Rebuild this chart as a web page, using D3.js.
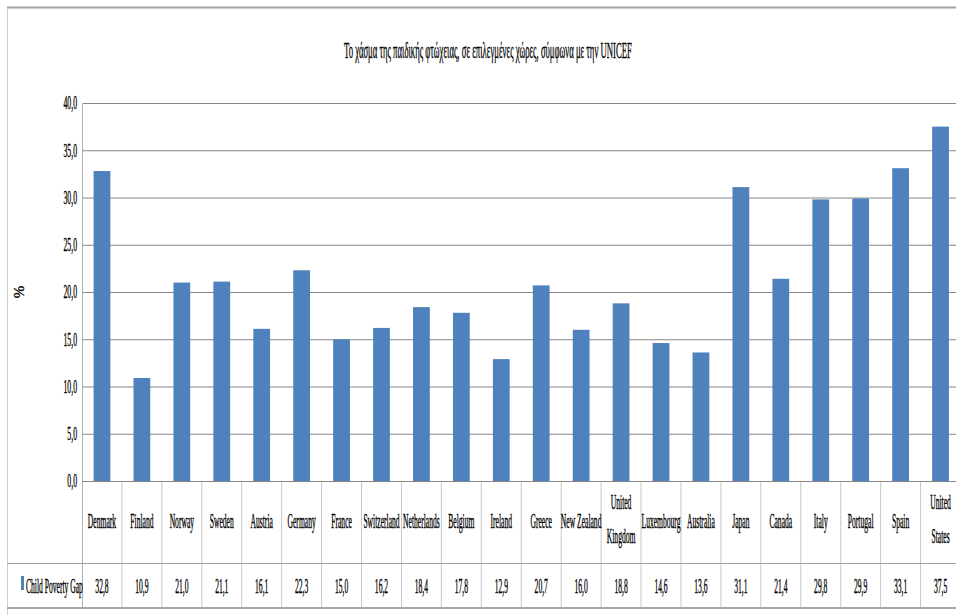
<!DOCTYPE html>
<html><head><meta charset="utf-8">
<script src="https://cdn.jsdelivr.net/npm/d3@7"></script>
<style>html,body{margin:0;padding:0;background:#fff;}svg{display:block;}</style>
</head><body>
<svg id="chart" width="956" height="615"></svg>
<script>
const title = "Το χάσμα της παιδικής φτώχειας, σε επιλεγμένες χώρες, σύμφωνα με την UNICEF";
const yLabel = "%";
const seriesName = "Child Poverty Gap";
const categories = ["Denmark","Finland","Norway","Sweden","Austria","Germany","France","Switzerland","Netherlands","Belgium","Ireland","Greece","New Zealand","United Kingdom","Luxembourg","Australia","Japan","Canada","Italy","Portugal","Spain","United States"];
const categoryLines = [["Denmark"],["Finland"],["Norway"],["Sweden"],["Austria"],["Germany"],["France"],["Switzerland"],["Netherlands"],["Belgium"],["Ireland"],["Greece"],["New Zealand"],["United","Kingdom"],["Luxembourg"],["Australia"],["Japan"],["Canada"],["Italy"],["Portugal"],["Spain"],["United","States"]];
const values = [32.8,10.9,21.0,21.1,16.1,22.3,15.0,16.2,18.4,17.8,12.9,20.7,16.0,18.8,14.6,13.6,31.1,21.4,29.8,29.9,33.1,37.5];
const yTicks = [0,5,10,15,20,25,30,35,40];

const FONT = "'Liberation Serif','Times New Roman',serif";
const SX = 0.37, SXT = 0.43;
const svg = d3.select("#chart");
const fmt = v => v.toFixed(1).replace(".", ",");

// outer frame
svg.append("line").attr("x1",7).attr("x2",956).attr("y1",7.5).attr("y2",7.5).attr("stroke","#a0a0a0").attr("stroke-width",2);
svg.append("line").attr("x1",7.5).attr("x2",7.5).attr("y1",8).attr("y2",615).attr("stroke","#cfcfcf").attr("stroke-width",1);

const pLeft = 82, pRight = 960.5, pTop = 103, pBottom = 481;
const x = d3.scaleBand().domain(categories).range([pLeft, pRight]).paddingInner(0.58).paddingOuter(0.29);
const y = d3.scaleLinear().domain([0, 40]).range([pBottom, pTop]);
const step = x.step();

function ctext(g, tx, ty, str, size, anchor) {
  return g.append("text")
    .attr("transform", `translate(${tx},${ty}) scale(${SX},1)`)
    .attr("text-anchor", anchor || "middle")
    .attr("font-family", FONT).attr("font-size", size).attr("fill", "#000")
    .attr("stroke", "#000").attr("stroke-width", 0.4)
    .text(str);
}

// gridlines
svg.append("g").attr("transform", `translate(${pLeft},0)`)
  .call(d3.axisLeft(y).tickValues(yTicks.slice(1)).tickSize(-(956-pLeft)).tickFormat(""))
  .call(g => g.select(".domain").remove())
  .call(g => g.selectAll(".tick line").attr("stroke", "#868686").attr("stroke-width", 1));

// y axis labels
svg.append("g").attr("transform", `translate(${pLeft},0)`)
  .call(d3.axisLeft(y).tickValues(yTicks).tickSize(0).tickFormat(fmt))
  .call(g => g.select(".domain").remove())
  .call(g => g.selectAll(".tick text")
     .attr("font-family", FONT).attr("font-size", 18).attr("fill", "#000")
     .attr("stroke", "#000").attr("stroke-width", 0.35)
     .attr("x", -5 / SXT).attr("transform", `scale(${SXT},1)`));

// bars
svg.append("g").selectAll("rect").data(values).join("rect")
  .attr("x", (d, i) => x(categories[i]))
  .attr("width", x.bandwidth())
  .attr("y", d => y(d))
  .attr("height", d => y(0) - y(d))
  .attr("fill", "#4f81bd");

// table
const rowSplit = 563, tableBottom = 608;
const tg = svg.append("g");
const bounds = categories.map((c, i) => pLeft + step * (i + 1));
tg.selectAll("line.v").data(bounds).join("line").attr("class","v")
  .attr("x1", d => d).attr("x2", d => d).attr("y1", pBottom).attr("y2", tableBottom)
  .attr("stroke", "#c8c8c8");
tg.append("line").attr("x1", pLeft+0.5).attr("x2", pLeft+0.5).attr("y1", pTop).attr("y2", tableBottom).attr("stroke", "#b0b0b0");
tg.append("line").attr("x1", pLeft).attr("x2", 956).attr("y1", pBottom+0.5).attr("y2", pBottom+0.5).attr("stroke", "#868686");
tg.append("line").attr("x1", 7).attr("x2", 956).attr("y1", rowSplit+0.5).attr("y2", rowSplit+0.5).attr("stroke", "#a0a0a0");
tg.append("line").attr("x1", 7).attr("x2", 956).attr("y1", tableBottom).attr("y2", tableBottom).attr("stroke", "#a6a6a6").attr("stroke-width", 2);

categories.forEach((c, i) => {
  const cx = x(c) + x.bandwidth() / 2;
  const lines = categoryLines[i];
  if (lines.length === 1) {
    ctext(tg, cx, 528, lines[0], 20.5);
  } else {
    ctext(tg, cx, 509, lines[0], 20.5);
    ctext(tg, cx, 543, lines[1], 20.5);
  }
  ctext(tg, cx, 593, fmt(values[i]), 20.5);
});

tg.append("rect").attr("x", 21).attr("y", 576).attr("width", 3).attr("height", 14).attr("fill", "#4f81bd");
ctext(tg, 26, 593, seriesName, 20.5, "start");

// title: condensed to the reference width
const tt = svg.append("text")
  .attr("font-family", FONT).attr("font-size", 23).attr("fill", "#000")
  .attr("stroke", "#000").attr("stroke-width", 0.35)
  .text(title);
const tw = tt.node().getComputedTextLength();
const tsx = 288 / tw;
tt.attr("transform", `translate(344,58) scale(${tsx},1)`);

svg.append("text").attr("transform", "translate(24,292) rotate(-90)")
  .attr("text-anchor", "middle").attr("font-family", FONT).attr("font-size", 15).attr("fill", "#000")
  .attr("stroke", "#000").attr("stroke-width", 0.3)
  .text(yLabel);
</script>
</body></html>
